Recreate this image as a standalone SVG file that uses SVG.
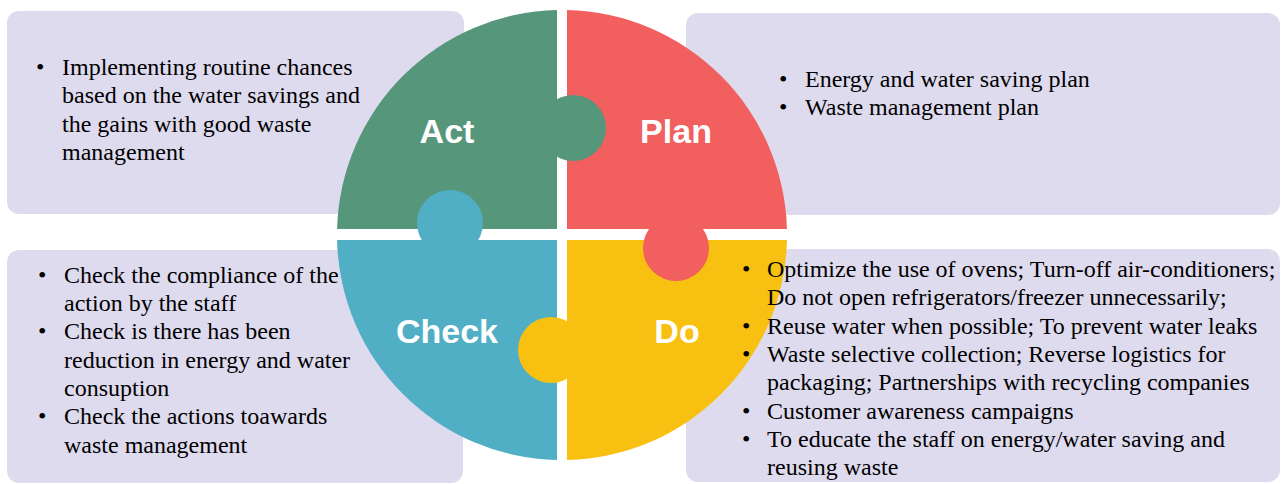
<svg xmlns="http://www.w3.org/2000/svg" width="1286" height="484" viewBox="0 0 1286 484">
<style>
.box{fill:#DFDBEF}
.t{font-family:"Liberation Serif","Times New Roman",serif;font-size:24px;fill:#000}
.lbl{font-family:"Liberation Sans",Arial,sans-serif;font-weight:bold;font-size:34px;fill:#fff;text-anchor:middle}
.g{fill:#56967B}.r{fill:#F15F5E}.b{fill:#50AFC5}.y{fill:#F8C010}
</style>
<rect width="1286" height="484" fill="#fff"/>
<g id="act-box"><rect class="box" x="7" y="11" width="457" height="203" rx="12"/></g>
<g id="plan-box"><rect class="box" x="686" y="13" width="594" height="202" rx="12"/></g>
<g id="check-box"><rect class="box" x="7" y="250" width="456" height="233" rx="12"/></g>
<g id="do-box"><rect class="box" x="686" y="249" width="594" height="233" rx="12"/></g>

<g id="act"><path class="g" d="M557,229 V10.06 A225,225 0 0 0 337.08,229 Z"/></g>
<g id="plan"><path class="r" d="M567,229 V10.06 A225,225 0 0 1 786.92,229 Z"/></g>
<g id="check"><path class="b" d="M557,240 H337.06 A225,225 0 0 0 557,459.94 Z"/></g>
<g id="do"><path class="y" d="M567,240 H786.94 A225,225 0 0 1 567,459.94 Z"/></g>
<g id="act-tab"><circle class="g" cx="573" cy="128" r="33"/></g>
<g id="plan-tab"><circle class="r" cx="676" cy="248" r="33"/></g>
<g id="check-tab"><circle class="b" cx="450" cy="223" r="33"/></g>
<g id="do-tab"><circle class="y" cx="551" cy="350" r="33"/></g>
<g id="connectors"></g>
<g id="labels">
<text class="lbl" x="447" y="143">Act</text>
<text class="lbl" x="676" y="143">Plan</text>
<text class="lbl" x="447" y="343">Check</text>
<text class="lbl" x="677" y="343">Do</text>
</g>

<g id="act-text" class="t">
<text x="36" y="75">•</text>
<text x="62" y="75">Implementing routine chances</text>
<text x="62" y="103.3">based on the water savings and</text>
<text x="62" y="131.6">the gains with good waste</text>
<text x="62" y="159.9">management</text>
</g>
<g id="plan-text" class="t">
<text x="779" y="87">•</text>
<text x="805" y="87">Energy and water saving plan</text>
<text x="779" y="115.3">•</text>
<text x="805" y="115.3">Waste management plan</text>
</g>
<g id="check-text" class="t">
<text x="38" y="282.7">•</text>
<text x="64" y="282.7">Check the compliance of the</text>
<text x="64" y="311">action by the staff</text>
<text x="38" y="339.3">•</text>
<text x="64" y="339.3">Check is there has been</text>
<text x="64" y="367.6">reduction in energy and water</text>
<text x="64" y="395.9">consuption</text>
<text x="38" y="424.2">•</text>
<text x="64" y="424.2">Check the actions toawards</text>
<text x="64" y="452.5">waste management</text>
</g>
<g id="do-text" class="t">
<text x="742" y="277">•</text>
<text x="767" y="277">Optimize the use of ovens; Turn-off air-conditioners;</text>
<text x="767" y="305.3">Do not open refrigerators/freezer unnecessarily;</text>
<text x="742" y="333.6">•</text>
<text x="767" y="333.6">Reuse water when possible; To prevent water leaks</text>
<text x="742" y="361.9">•</text>
<text x="767" y="361.9">Waste selective collection; Reverse logistics for</text>
<text x="767" y="390.2">packaging; Partnerships with recycling companies</text>
<text x="742" y="418.5">•</text>
<text x="767" y="418.5">Customer awareness campaigns</text>
<text x="742" y="446.8">•</text>
<text x="767" y="446.8">To educate the staff on energy/water saving and</text>
<text x="767" y="475.1">reusing waste</text>
</g>
</svg>
